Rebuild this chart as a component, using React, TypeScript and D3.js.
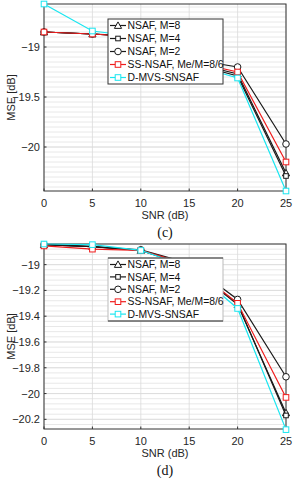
import * as d3 from 'd3';

// x values (SNR, dB)
const snr = [0, 5, 10, 15, 20, 25];

const seriesNames = ['NSAF, M=8', 'NSAF, M=4', 'NSAF, M=2', 'SS-NSAF, Me/M=8/6', 'D-MVS-SNSAF'];
const seriesColors = ['#1a1a1a', '#1a1a1a', '#1a1a1a', '#f01c1c', '#19e6f0'];
const seriesMarkers = ['triangle', 'smallsquare', 'circle', 'square', 'square'];

// panel (c)
const cM8 = [-18.85, -18.87, -18.9, -19.15, -19.27, -20.26];
const cM4 = [-18.85, -18.87, -18.9, -19.16, -19.29, -20.29];
const cM2 = [-18.85, -18.87, -18.89, -19.12, -19.2, -19.97];
const cSS = [-18.85, -18.87, -18.9, -19.14, -19.25, -20.15];
const cDMVS = [-18.57, -18.84, -18.9, -19.17, -19.31, -20.44];
const cTicks = [-19, -19.5, -20];

// panel (d)
const dM8 = [-18.845, -18.86, -18.89, -19.01, -19.31, -20.15];
const dM4 = [-18.845, -18.86, -18.89, -19.01, -19.3, -20.17];
const dM2 = [-18.845, -18.86, -18.885, -18.99, -19.27, -19.87];
const dSS = [-18.855, -18.88, -18.89, -19.0, -19.3, -20.03];
const dDMVS = [-18.84, -18.845, -18.89, -19.02, -19.34, -20.28];
const dTicks = [-19, -19.2, -19.4, -19.6, -19.8, -20, -20.2];

const xTicks = [0, 5, 10, 15, 20, 25];
const font = 'Liberation Sans, Arial, sans-serif';

function Marker({ type, x, y, color }) {
  if (type === 'triangle') {
    const s = 3.6;
    return <path d={`M${x},${y - s}L${x + s},${y + s * 0.8}L${x - s},${y + s * 0.8}Z`} fill="white" stroke={color} strokeWidth={1} />;
  }
  if (type === 'circle') {
    return <circle cx={x} cy={y} r={3.3} fill="white" stroke={color} strokeWidth={1} />;
  }
  const s = type === 'smallsquare' ? 2.3 : 2.8;
  return <rect x={x - s} y={y - s} width={s * 2} height={s * 2} fill="white" stroke={color} strokeWidth={1} />;
}

function Panel({ data, domain, top, bottom, ticks, minorStep, label, legendTop, legendBottom, rowStep, boxedLegend }) {
  const left = 44;
  const right = 286;
  const x = d3.scaleLinear().domain([0, 25]).range([left, right]);
  const y = d3.scaleLinear().domain(domain).range([top, bottom]);
  const line = d3.line<number>().x((_, i) => x(snr[i])).y(v => y(v));
  const minor = d3.range(Math.ceil(domain[1] / minorStep) * minorStep, domain[0], minorStep);
  const tickFmt = d3.format('');

  return (
    <g>
      <rect x={left} y={top} width={right - left} height={bottom - top} fill="white" />
      {minor.map((v, i) => (
        <line key={'m' + i} x1={left} x2={right} y1={y(v)} y2={y(v)} stroke="#e8e8e8" strokeWidth={1} />
      ))}
      {xTicks.map(t => (
        <line key={'gx' + t} x1={x(t)} x2={x(t)} y1={top} y2={bottom} stroke="#dadada" strokeWidth={0.8} />
      ))}
      {ticks.map(t => (
        <line key={'gy' + t} x1={left} x2={right} y1={y(t)} y2={y(t)} stroke="#dadada" strokeWidth={0.8} />
      ))}
      <rect x={left} y={top} width={right - left} height={bottom - top} fill="none" stroke="#333" strokeWidth={1} />
      {xTicks.map(t => (
        <g key={'tx' + t}>
          <line x1={x(t)} x2={x(t)} y1={bottom} y2={bottom - 2.5} stroke="#333" />
          <text x={x(t)} y={bottom + 16} textAnchor="middle" fontSize={11} fontFamily={font} fill="#262626">{t}</text>
        </g>
      ))}
      {ticks.map(t => (
        <g key={'ty' + t}>
          <line x1={left} x2={left + 2.5} y1={y(t)} y2={y(t)} stroke="#333" />
          <text x={left - 4} y={y(t) + 4} textAnchor="end" fontSize={11} fontFamily={font} fill="#262626">{tickFmt(t)}</text>
        </g>
      ))}
      <text x={165} y={bottom + 28} textAnchor="middle" fontSize={11} fontFamily={font} fill="#262626">SNR (dB)</text>
      <text transform={`translate(15,${(top + bottom) / 2}) rotate(-90)`} textAnchor="middle" fontSize={11} fontFamily={font} fill="#262626">MSE [dB]</text>
      <text x={165} y={bottom + 46} textAnchor="middle" fontSize={14} fontFamily="Liberation Serif, serif" fill="#111">{label}</text>

      {data.map((vals, s) => (
        <g key={'s' + s}>
          <path d={line(vals) || ''} fill="none" stroke={seriesColors[s]} strokeWidth={1.2} />
          {vals.map((v, i) => (
            <Marker key={i} type={seriesMarkers[s]} x={x(snr[i])} y={y(v)} color={seriesColors[s]} />
          ))}
        </g>
      ))}

      <g>
        <rect x={108} y={legendTop} width={115} height={legendBottom - legendTop} fill="white"
          stroke={boxedLegend ? '#333' : '#bbb'} strokeWidth={1} />
        {!boxedLegend && (
          <g>
            <line x1={108} x2={223} y1={legendTop} y2={legendTop} stroke="#333" strokeWidth={1.2} />
            <line x1={108} x2={223} y1={legendBottom} y2={legendBottom} stroke="#333" strokeWidth={1.2} />
          </g>
        )}
        {seriesNames.map((name, s) => {
          const ry = legendTop + 6.5 + s * rowStep;
          return (
            <g key={'l' + s}>
              <line x1={110} x2={126} y1={ry} y2={ry} stroke={seriesColors[s]} strokeWidth={1.2} />
              <Marker type={seriesMarkers[s]} x={118} y={ry} color={seriesColors[s]} />
              <text x={127.5} y={ry + 3.7} fontSize={10.4} fontFamily={font} fill="#111">{name}</text>
            </g>
          );
        })}
      </g>
    </g>
  );
}

export default function App() {
  return (
    <svg width={300} height={480} style={{ position: 'absolute', left: 0, top: 0, background: 'white' }}>
      <Panel data={[cM8, cM4, cM2, cSS, cDMVS]} domain={[-18.57, -20.44]} top={4} bottom={191}
        ticks={cTicks} minorStep={0.05} label="(c)" legendTop={19} legendBottom={84} rowStep={13} boxedLegend={true} />
      <Panel data={[dM8, dM4, dM2, dSS, dDMVS]} domain={[-18.84, -20.275]} top={244} bottom={429}
        ticks={dTicks} minorStep={0.04} label="(d)" legendTop={258} legendBottom={321} rowStep={12.4} boxedLegend={false} />
    </svg>
  );
}
